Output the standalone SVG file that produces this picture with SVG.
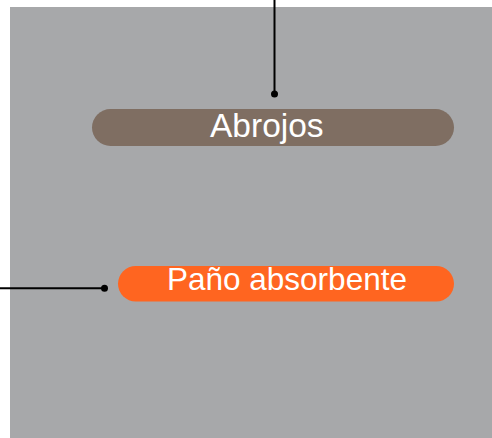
<svg xmlns="http://www.w3.org/2000/svg" width="492" height="438" viewBox="0 0 492 438">
<style>
.lbl{font-family:"Liberation Sans",Arial,sans-serif;fill:#ffffff}
.ln{stroke:#000;stroke-width:2;fill:none}
</style>
<rect x="0" y="0" width="492" height="438" fill="#ffffff"/>
<rect x="10" y="7" width="482" height="431" fill="#a7a8aa"/>
<g id="connectors">
<line class="ln" x1="274.5" y1="0" x2="274.5" y2="94"/>
<circle cx="274.5" cy="94" r="3.5" fill="#000"/>
<line class="ln" x1="0" y1="288.3" x2="104.5" y2="288.3"/>
<circle cx="104.5" cy="288.3" r="3.5" fill="#000"/>
</g>
<g id="abrojos">
<rect x="92" y="109" width="362" height="37" rx="18.5" fill="#7f6e62"/>
<text class="lbl" x="210" y="137" font-size="33.5">Abrojos</text>
</g>
<g id="pano">
<rect x="118" y="266" width="336" height="35.5" rx="17.75" fill="#ff6520"/>
<text class="lbl" x="167" y="290" font-size="31.5">Paño absorbente</text>
</g>
</svg>
